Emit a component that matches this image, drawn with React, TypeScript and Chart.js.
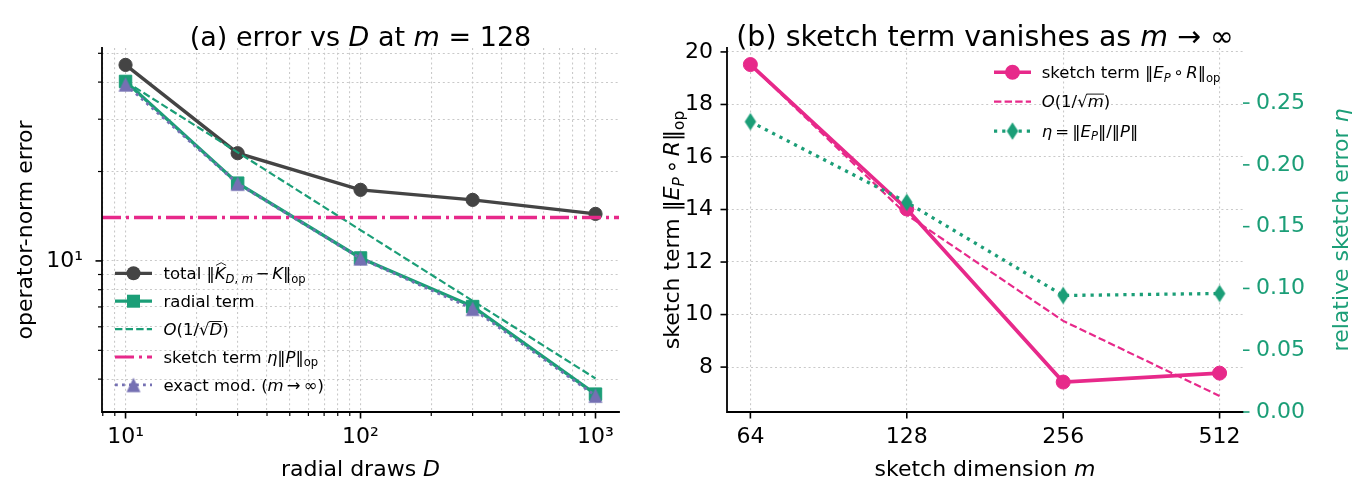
import React, { useEffect, useRef } from 'react';
import { Chart, registerables } from 'chart.js';

Chart.register(...registerables);

const FONT = '"DejaVu Sans", "Noto Sans", sans-serif';
const DARK = '#444444';
const GREEN = '#1b9e77';
const PINK = '#e7298a';
const PURPLE = '#7570b3';
const GRID = '#c9c9c9';

// ---- panel (a): error vs number of radial draws D (m = 128) ----
const D_VALUES = [10, 30, 100, 300, 1000];
const TOTAL_ERR = [45.7, 23.05, 17.35, 16.05, 14.4];
const RADIAL_ERR = [40.2, 18.27, 10.23, 7.02, 3.56];
const RATE_D = [40.2, 23.2, 12.7, 7.34, 4.02];
const SKETCH_LEVEL = 14.0;
const EXACT_ERR = [39.3, 18.2, 10.2, 6.9, 3.52];
const D_RANGE = [7.94, 1259];
const ERR_RANGE = [3.1, 52.1];
const D_TICKS = [8, 9, 10, 20, 30, 40, 50, 60, 70, 80, 90, 100, 200, 300, 400, 500, 600, 700, 800, 900, 1000];
const D_MAJOR = [10, 100, 1000];
const D_MAJOR_LABELS = ['10¹', '10²', '10³'];
const ERR_TICKS = [4, 5, 6, 7, 8, 9, 10, 20, 30, 40, 50];
const ERR_MAJOR = [10];
const ERR_MAJOR_LABELS = ['10¹'];

// ---- panel (b): sketch term vs sketch dimension m ----
const M_VALUES = [64, 128, 256, 512];
const SKETCH_TERM = [19.52, 14.02, 7.43, 7.77];
const RATE_M = [19.52, 13.8, 9.76, 6.9];
const ETA = [0.235, 0.1697, 0.0943, 0.0959];
const M_RANGE = [57.7, 568];
const TERM_RANGE = [6.29, 20.15];
const TERM_TICKS = [8, 10, 12, 14, 16, 18, 20];
const ETA_RANGE = [0, 0.2946];
const ETA_TICKS = [0, 0.05, 0.1, 0.15, 0.2, 0.25];

// a run of text: italic, subscript, overline (radical), hat, and side padding in em
type Seg = { t: string; it?: boolean; sub?: boolean; over?: boolean; hat?: boolean; pad?: number };

const pts = (xs: number[], ys: number[]) => xs.map((x, i) => ({ x, y: ys[i] }));

function segFont(s: Seg, size: number) {
  const sz = s.sub ? size * 0.7 : size;
  return `${s.it ? 'italic ' : ''}${sz}px ${FONT}`;
}

function segWidth(ctx: CanvasRenderingContext2D, s: Seg, size: number) {
  ctx.font = segFont(s, size);
  return ctx.measureText(s.t).width + 2 * (s.pad || 0) * size;
}

function drawRich(
  ctx: CanvasRenderingContext2D,
  segs: Seg[],
  x: number,
  y: number,
  size: number,
  align: 'left' | 'center',
  color: string
) {
  let total = 0;
  for (const s of segs) total += segWidth(ctx, s, size);
  let cx = align === 'center' ? x - total / 2 : x;
  ctx.save();
  ctx.fillStyle = color;
  ctx.strokeStyle = color;
  ctx.textAlign = 'left';
  ctx.textBaseline = 'alphabetic';
  for (const s of segs) {
    ctx.font = segFont(s, size);
    const w = ctx.measureText(s.t).width;
    const p = (s.pad || 0) * size;
    const gx = cx + p;
    const by = s.sub ? y + size * 0.22 : y;
    ctx.fillText(s.t, gx, by);
    if (s.over) {
      ctx.lineWidth = size * 0.055;
      ctx.beginPath();
      ctx.moveTo(gx - size * 0.02, y - size * 0.8);
      ctx.lineTo(gx + w + size * 0.02, y - size * 0.8);
      ctx.stroke();
    }
    if (s.hat) {
      ctx.lineWidth = size * 0.05;
      ctx.beginPath();
      ctx.moveTo(gx + w * 0.12, y - size * 0.82);
      ctx.lineTo(gx + w * 0.6, y - size * 0.98);
      ctx.lineTo(gx + w * 1.05, y - size * 0.82);
      ctx.stroke();
    }
    cx += w + 2 * p;
  }
  ctx.restore();
}

function markerCanvas(kind: 'triangle' | 'diamond', color: string, w: number, h: number) {
  const c = document.createElement('canvas');
  c.width = Math.ceil(w + 2);
  c.height = Math.ceil(h + 2);
  const g = c.getContext('2d')!;
  const cx = c.width / 2;
  const cy = c.height / 2;
  g.fillStyle = color;
  g.beginPath();
  if (kind === 'triangle') {
    g.moveTo(cx, cy - h / 2);
    g.lineTo(cx + w / 2, cy + h / 2);
    g.lineTo(cx - w / 2, cy + h / 2);
  } else {
    g.moveTo(cx, cy - h / 2);
    g.lineTo(cx + w / 2, cy);
    g.lineTo(cx, cy + h / 2);
    g.lineTo(cx - w / 2, cy);
  }
  g.closePath();
  g.fill();
  return c;
}

type Handle = {
  color: string;
  width: number;
  dash: number[];
  marker?: 'circle' | 'square' | HTMLCanvasElement;
  size?: number;
};

function drawHandle(ctx: CanvasRenderingContext2D, h: Handle, x1: number, x2: number, y: number) {
  ctx.save();
  ctx.strokeStyle = h.color;
  ctx.lineWidth = h.width;
  ctx.lineCap = 'butt';
  ctx.setLineDash(h.dash);
  ctx.beginPath();
  ctx.moveTo(x1, y);
  ctx.lineTo(x2, y);
  ctx.stroke();
  ctx.setLineDash([]);
  const mx = (x1 + x2) / 2;
  ctx.fillStyle = h.color;
  if (h.marker === 'circle') {
    ctx.beginPath();
    ctx.arc(mx, y, h.size || 6, 0, Math.PI * 2);
    ctx.fill();
  } else if (h.marker === 'square') {
    const s = h.size || 12;
    ctx.fillRect(mx - s / 2, y - s / 2, s, s);
  } else if (h.marker) {
    const m = h.marker;
    ctx.drawImage(m, mx - m.width / 2, y - m.height / 2);
  }
  ctx.restore();
}

type Area = { left: number; right: number; top: number; bottom: number };

function drawSpines(ctx: CanvasRenderingContext2D, a: Area) {
  ctx.save();
  ctx.strokeStyle = '#000';
  ctx.lineWidth = 1.8;
  ctx.lineCap = 'square';
  ctx.beginPath();
  ctx.moveTo(a.left, a.top);
  ctx.lineTo(a.left, a.bottom);
  ctx.lineTo(a.right, a.bottom);
  ctx.stroke();
  ctx.restore();
}

function drawTickMarks(
  ctx: CanvasRenderingContext2D,
  scale: any,
  values: number[],
  majors: number[],
  side: 'bottom' | 'left' | 'right',
  a: Area,
  color: string
) {
  ctx.save();
  ctx.strokeStyle = color;
  for (const v of values) {
    const p = scale.getPixelForValue(v);
    const major = majors.includes(v);
    const len = major ? 6.5 : 4;
    ctx.lineWidth = major ? 1.6 : 1.2;
    ctx.beginPath();
    if (side === 'bottom') {
      ctx.moveTo(p, a.bottom);
      ctx.lineTo(p, a.bottom + len);
    } else if (side === 'left') {
      ctx.moveTo(a.left, p);
      ctx.lineTo(a.left - len, p);
    } else {
      ctx.moveTo(a.right, p);
      ctx.lineTo(a.right + len, p);
    }
    ctx.stroke();
  }
  ctx.restore();
}

function drawRotated(
  ctx: CanvasRenderingContext2D,
  segs: Seg[],
  x: number,
  y: number,
  size: number,
  color: string
) {
  ctx.save();
  ctx.translate(x, y);
  ctx.rotate(-Math.PI / 2);
  drawRich(ctx, segs, 0, 0, size, 'center', color);
  ctx.restore();
}

const TICK_FONT = { family: FONT, size: 22 };
const LEGEND_SIZE = 16.5;
const TITLE_A_SIZE = 27;
const TITLE_B_SIZE = 28.5;
const LABEL_SIZE = 22;
const BIN = 0.11; // spacing around binary operators
const REL = 0.14; // spacing around relations

const gridOpts = { color: GRID, lineWidth: 1.1, drawTicks: false };
const borderOpts = { display: false, dash: [2, 2.8] };

const SKETCH_OP: Seg[] = [
  { t: 'sketch term ' },
  { t: '‖' },
  { t: 'E', it: true },
  { t: 'P', it: true, sub: true },
  { t: '∘', pad: BIN + 0.05 },
  { t: 'R', it: true },
  { t: '‖' },
  { t: 'op', sub: true },
];

// canvas split: panel (a) on [0, 640), panel (b) on [640, 1358)
const SPLIT = 640;

function buildLeft(canvas: HTMLCanvasElement) {
  const tri = markerCanvas('triangle', PURPLE, 14, 14.5);
  const legend: { h: Handle; segs: Seg[] }[] = [
    {
      h: { color: DARK, width: 3.3, dash: [], marker: 'circle', size: 7 },
      segs: [
        { t: 'total ' },
        { t: '‖' },
        { t: 'K', it: true, hat: true },
        { t: 'D', it: true, sub: true },
        { t: ',', sub: true },
        { t: ' m', it: true, sub: true },
        { t: '−', pad: BIN + 0.05 },
        { t: 'K', it: true },
        { t: '‖' },
        { t: 'op', sub: true },
      ],
    },
    { h: { color: GREEN, width: 3.3, dash: [], marker: 'square', size: 13 }, segs: [{ t: 'radial term' }] },
    {
      h: { color: GREEN, width: 2.2, dash: [7.4, 3.2] },
      segs: [{ t: 'O', it: true }, { t: '(1/' }, { t: '√' }, { t: 'D', it: true, over: true }, { t: ')' }],
    },
    {
      h: { color: PINK, width: 3.2, dash: [19, 5, 3, 5] },
      segs: [
        { t: 'sketch term ' },
        { t: 'η', it: true },
        { t: '‖' },
        { t: 'P', it: true },
        { t: '‖' },
        { t: 'op', sub: true },
      ],
    },
    {
      h: { color: PURPLE, width: 2.8, dash: [2.8, 4.2], marker: tri },
      segs: [{ t: 'exact mod. (' }, { t: 'm', it: true }, { t: '→', pad: REL + 0.05 }, { t: '∞)' }],
    },
  ];

  const decor = {
    id: 'decorA',
    afterDraw(chart: any) {
      const ctx: CanvasRenderingContext2D = chart.ctx;
      const a: Area = chart.chartArea;
      drawSpines(ctx, a);
      drawTickMarks(ctx, chart.scales.x, D_TICKS, D_MAJOR, 'bottom', a, '#000');
      drawTickMarks(ctx, chart.scales.y, ERR_TICKS, ERR_MAJOR, 'left', a, '#000');
      const cx = (a.left + a.right) / 2;
      drawRich(
        ctx,
        [{ t: '(a) error vs ' }, { t: 'D', it: true }, { t: ' at ' }, { t: 'm', it: true }, { t: ' = 128' }],
        cx,
        46,
        TITLE_A_SIZE,
        'center',
        '#000'
      );
      drawRich(ctx, [{ t: 'radial draws ' }, { t: 'D', it: true }], cx, 476, LABEL_SIZE, 'center', '#000');
      drawRotated(ctx, [{ t: 'operator-norm error' }], 32, (a.top + a.bottom) / 2, LABEL_SIZE, '#000');
      legend.forEach((e, i) => {
        const y = 273.3 + i * 27.9;
        drawHandle(ctx, e.h, 115, 152, y);
        drawRich(ctx, e.segs, 163.5, y + 5.6, LEGEND_SIZE, 'left', '#000');
      });
    },
  };

  const n = 5;
  return new Chart(canvas, {
    type: 'line',
    data: {
      datasets: [
        {
          data: pts(D_VALUES, TOTAL_ERR),
          borderColor: DARK,
          backgroundColor: DARK,
          borderWidth: 3.4,
          pointStyle: 'circle',
          pointRadius: 6.6,
          pointBorderWidth: 1,
          pointBackgroundColor: DARK,
          pointBorderColor: DARK,
          order: n - 0,
        },
        {
          data: pts(D_VALUES, RADIAL_ERR),
          borderColor: GREEN,
          backgroundColor: GREEN,
          borderWidth: 3.4,
          pointStyle: 'rect',
          pointRadius: 8.8,
          pointBorderWidth: 1,
          pointBackgroundColor: GREEN,
          pointBorderColor: GREEN,
          order: n - 1,
        },
        {
          data: pts(D_VALUES, RATE_D),
          borderColor: GREEN,
          borderWidth: 2.2,
          borderDash: [7.4, 3.2],
          pointRadius: 0,
          order: n - 2,
        },
        {
          data: pts(D_RANGE, [SKETCH_LEVEL, SKETCH_LEVEL]),
          borderColor: PINK,
          borderWidth: 3.3,
          borderDash: [19, 5, 3, 5],
          pointRadius: 0,
          order: n - 3,
        },
        {
          data: pts(D_VALUES, EXACT_ERR),
          borderColor: PURPLE,
          backgroundColor: PURPLE,
          borderWidth: 2.9,
          borderDash: [2.8, 4.2],
          pointStyle: tri as any,
          pointRadius: 7,
          order: n - 4,
        },
      ] as any,
    },
    options: {
      animation: false,
      responsive: false,
      events: [],
      layout: { padding: { top: 48, right: SPLIT - 619, left: 0, bottom: 0 } },
      elements: { line: { tension: 0 } },
      plugins: { legend: { display: false }, tooltip: { enabled: false }, title: { display: false } },
      scales: {
        x: {
          type: 'logarithmic',
          min: D_RANGE[0],
          max: D_RANGE[1],
          afterFit: (s: any) => {
            s.height = 84;
          },
          afterBuildTicks: (s: any) => {
            s.ticks = D_TICKS.map((v) => ({ value: v, major: D_MAJOR.includes(v) }));
          },
          ticks: {
            autoSkip: false,
            maxRotation: 0,
            minRotation: 0,
            padding: 12,
            font: TICK_FONT,
            color: '#000',
            callback: (v: any) => {
              const i = D_MAJOR.indexOf(Number(v));
              return i >= 0 ? D_MAJOR_LABELS[i] : '';
            },
          },
          grid: gridOpts,
          border: borderOpts,
        },
        y: {
          type: 'logarithmic',
          min: ERR_RANGE[0],
          max: ERR_RANGE[1],
          afterFit: (s: any) => {
            s.width = 102;
          },
          afterBuildTicks: (s: any) => {
            s.ticks = ERR_TICKS.map((v) => ({ value: v, major: ERR_MAJOR.includes(v) }));
          },
          ticks: {
            autoSkip: false,
            padding: 19,
            font: TICK_FONT,
            color: '#000',
            callback: (v: any) => {
              const i = ERR_MAJOR.indexOf(Number(v));
              return i >= 0 ? ERR_MAJOR_LABELS[i] : '';
            },
          },
          grid: gridOpts,
          border: borderOpts,
        },
      } as any,
    },
    plugins: [decor],
  });
}

function buildRight(canvas: HTMLCanvasElement) {
  const dia = markerCanvas('diamond', GREEN, 11.5, 17.5);
  const legend: { h: Handle; segs: Seg[] }[] = [
    { h: { color: PINK, width: 3.6, dash: [], marker: 'circle', size: 7.5 }, segs: SKETCH_OP },
    {
      h: { color: PINK, width: 2.2, dash: [7.4, 3.2] },
      segs: [{ t: 'O', it: true }, { t: '(1/' }, { t: '√' }, { t: 'm', it: true, over: true }, { t: ')' }],
    },
    {
      h: { color: GREEN, width: 3.2, dash: [3.2, 5], marker: dia },
      segs: [
        { t: 'η', it: true },
        { t: '=', pad: REL + 0.05 },
        { t: '‖' },
        { t: 'E', it: true },
        { t: 'P', it: true, sub: true },
        { t: '‖/‖' },
        { t: 'P', it: true },
        { t: '‖' },
      ],
    },
  ];
  const off = SPLIT;

  const decor = {
    id: 'decorB',
    afterDraw(chart: any) {
      const ctx: CanvasRenderingContext2D = chart.ctx;
      const a: Area = chart.chartArea;
      drawSpines(ctx, a);
      drawTickMarks(ctx, chart.scales.x, M_VALUES, M_VALUES, 'bottom', a, '#000');
      drawTickMarks(ctx, chart.scales.y, TERM_TICKS, TERM_TICKS, 'left', a, '#000');
      drawTickMarks(ctx, chart.scales.y2, ETA_TICKS, ETA_TICKS, 'right', a, GREEN);
      const cx = (a.left + a.right) / 2;
      drawRich(
        ctx,
        [{ t: '(b) sketch term vanishes as ' }, { t: 'm', it: true }, { t: ' → ∞' }],
        cx,
        46,
        TITLE_B_SIZE,
        'center',
        '#000'
      );
      drawRich(ctx, [{ t: 'sketch dimension ' }, { t: 'm', it: true }], cx, 476, LABEL_SIZE, 'center', '#000');
      drawRotated(ctx, SKETCH_OP, 679 - off, (a.top + a.bottom) / 2, LABEL_SIZE, '#000');
      drawRotated(
        ctx,
        [{ t: 'relative sketch error ' }, { t: 'η', it: true }],
        1348 - off,
        (a.top + a.bottom) / 2,
        LABEL_SIZE,
        GREEN
      );
      legend.forEach((e, i) => {
        const y = 72.3 + i * 29.4;
        drawHandle(ctx, e.h, 994 - off, 1031 - off, y);
        drawRich(ctx, e.segs, 1041.7 - off, y + 5.6, LEGEND_SIZE, 'left', '#000');
      });
    },
  };

  return new Chart(canvas, {
    type: 'line',
    data: {
      datasets: [
        {
          data: pts(M_VALUES, SKETCH_TERM),
          yAxisID: 'y',
          borderColor: PINK,
          backgroundColor: PINK,
          borderWidth: 3.7,
          pointStyle: 'circle',
          pointRadius: 7,
          pointBorderWidth: 1,
          pointBackgroundColor: PINK,
          pointBorderColor: PINK,
          order: 3,
        },
        {
          data: pts(M_VALUES, RATE_M),
          yAxisID: 'y',
          borderColor: PINK,
          borderWidth: 2.2,
          borderDash: [7.4, 3.2],
          pointRadius: 0,
          order: 2,
        },
        {
          data: pts(M_VALUES, ETA),
          yAxisID: 'y2',
          borderColor: GREEN,
          backgroundColor: GREEN,
          borderWidth: 3.3,
          borderDash: [3.2, 5],
          pointStyle: dia as any,
          pointRadius: 8,
          order: 1,
        },
      ] as any,
    },
    options: {
      animation: false,
      responsive: false,
      events: [],
      layout: { padding: { top: 48, right: 0, left: 0, bottom: 0 } },
      elements: { line: { tension: 0 } },
      plugins: { legend: { display: false }, tooltip: { enabled: false }, title: { display: false } },
      scales: {
        x: {
          type: 'logarithmic',
          min: M_RANGE[0],
          max: M_RANGE[1],
          afterFit: (s: any) => {
            s.height = 84;
          },
          afterBuildTicks: (s: any) => {
            s.ticks = M_VALUES.map((v) => ({ value: v, major: true }));
          },
          ticks: {
            autoSkip: false,
            maxRotation: 0,
            minRotation: 0,
            padding: 12,
            font: TICK_FONT,
            color: '#000',
            callback: (v: any) => String(v),
          },
          grid: gridOpts,
          border: borderOpts,
        },
        y: {
          type: 'linear',
          position: 'left',
          min: TERM_RANGE[0],
          max: TERM_RANGE[1],
          afterFit: (s: any) => {
            s.width = 727 - off;
          },
          afterBuildTicks: (s: any) => {
            s.ticks = TERM_TICKS.map((v) => ({ value: v }));
          },
          ticks: { autoSkip: false, padding: 14, font: TICK_FONT, color: '#000', callback: (v: any) => String(v) },
          grid: gridOpts,
          border: borderOpts,
        },
        y2: {
          type: 'linear',
          position: 'right',
          min: ETA_RANGE[0],
          max: ETA_RANGE[1],
          afterFit: (s: any) => {
            s.width = 1358 - 1243;
          },
          afterBuildTicks: (s: any) => {
            s.ticks = ETA_TICKS.map((v) => ({ value: v }));
          },
          ticks: {
            autoSkip: false,
            padding: 13,
            font: TICK_FONT,
            color: GREEN,
            callback: (v: any) => Number(v).toFixed(2),
          },
          grid: { drawOnChartArea: false, drawTicks: false },
          border: { display: false },
        },
      } as any,
    },
    plugins: [decor],
  });
}

export default function App() {
  const leftRef = useRef<HTMLCanvasElement>(null);
  const rightRef = useRef<HTMLCanvasElement>(null);

  useEffect(() => {
    const a = buildLeft(leftRef.current!);
    const b = buildRight(rightRef.current!);
    return () => {
      a.destroy();
      b.destroy();
    };
  }, []);

  return (
    <div style={{ position: 'absolute', left: 0, top: 0, width: 1358, height: 496, background: '#fff' }}>
      <canvas
        ref={leftRef}
        width={SPLIT}
        height={496}
        style={{ position: 'absolute', left: 0, top: 0, width: SPLIT, height: 496 }}
      />
      <canvas
        ref={rightRef}
        width={1358 - SPLIT}
        height={496}
        style={{ position: 'absolute', left: SPLIT, top: 0, width: 1358 - SPLIT, height: 496 }}
      />
    </div>
  );
}
